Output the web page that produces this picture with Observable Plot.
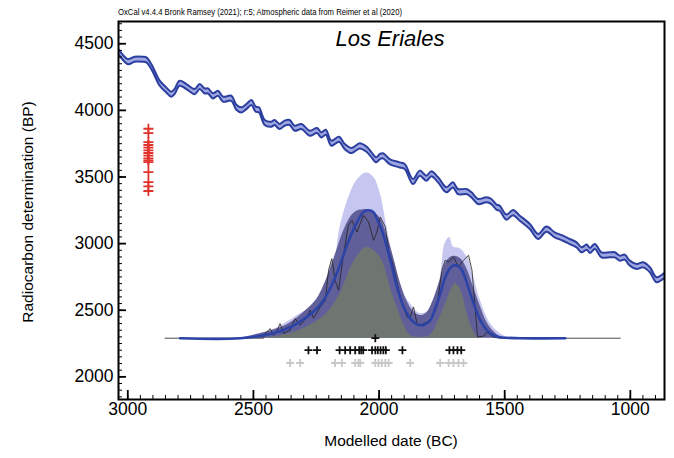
<!DOCTYPE html>
<html>
<head>
<meta charset="utf-8">
<script src="https://cdn.jsdelivr.net/npm/d3@7"></script>
<script src="https://cdn.jsdelivr.net/npm/@observablehq/plot@0.6"></script>
<style>
  html, body { margin: 0; padding: 0; background: #fff; }
  svg { display: block; }
</style>
</head>
<body>
<div id="chart"></div>
<script>
// ---------- tick labels ----------
const xTicks = [3000, 2500, 2000, 1500, 1000];
const yTicks = [2000, 2500, 3000, 3500, 4000, 4500];
const xMinor = d3.range(900, 3050, 50);
const yMinor = d3.range(1850, 4700, 50);

// ---------- calibration curve (IntCal20, BC year vs BP) ----------
const curveYears = [3040,3033,2998,2971,2938,2924,2904,2871,2845,2825,2812,2792,2765,2732,2712,2692,2679,2659,2639,2619,2586,2566,2546,2526,2506,2489,2476,2453,2427,2414,2394,2374,2354,2334,2307,2274,2245,2228,2210,2188,2157,2135,2108,2075,2048,2028,2009,1995,1982,1956,1916,1896,1863,1836,1810,1790,1763,1730,1704,1684,1650,1630,1604,1571,1551,1531,1518,1491,1465,1438,1398,1365,1332,1299,1266,1239,1212,1192,1172,1159,1139,1113,1080,1060,1040,1020,1003,973,947,920,894,867,860];
const curveBP = [4445,4430,4362,4380,4380,4375,4324,4200,4150,4117,4137,4200,4175,4137,4175,4142,4142,4105,4125,4080,4087,4020,4000,4025,4055,4005,4000,3905,3892,3905,3875,3900,3905,3862,3875,3825,3845,3812,3832,3750,3780,3725,3695,3730,3705,3662,3625,3650,3655,3612,3587,3575,3462,3525,3487,3520,3475,3400,3437,3387,3387,3362,3312,3325,3312,3270,3262,3195,3229,3187,3125,3050,3105,3062,3037,3012,2987,2950,2970,2945,2975,2912,2912,2912,2887,2895,2855,2825,2837,2800,2725,2750,2760];
const curveSigma = 19;

// ---------- radiocarbon determinations (red, plotted on the y axis) ----------
const rDateYear = 2918;
const rDatesBP = [3862,3829,3762,3740,3720,3700,3680,3660,3640,3625,3612,3537,3462,3430,3395];

// ---------- distributions (heights expressed on the BP axis above the baseline) ----------
const baseBP = 2290;
// summed (unmodelled) probability, thin black outline
const sumYears = [2852,2460,2453,2433,2420,2407,2394,2380,2354,2334,2314,2287,2274,2261,2234,2214,2201,2188,2175,2161,2142,2122,2108,2088,2062,2042,2022,2009,1995,1975,1962,1942,1916,1889,1876,1863,1849,1836,1796,1770,1750,1737,1723,1704,1684,1664,1644,1630,1617,1608,1584,1571,1544,1518,1040];
const sumBP = [2290,2290,2327,2362,2312,2342,2400,2327,2350,2437,2387,2450,2500,2440,2525,2575,2800,2887,2725,2650,2912,3137,3175,3087,3212,3162,3025,3085,3200,3125,2950,2825,2600,2450,2447,2525,2400,2387,2425,2525,2800,2875,2862,2900,2825,2875,2912,2800,2500,2300,2305,2337,2297,2290,2290];
// KDE 95% envelope (light)
const env95Years = [2553,2501,2433,2394,2354,2302,2247,2194,2155,2115,2088,2051,2022,1995,1969,1942,1916,1876,1836,1783,1756,1737,1719,1704,1677,1650,1624,1597,1557,1518,1478];
const env95BP = [2290,2300,2342,2380,2425,2487,2525,2675,3125,3375,3475,3530,3500,3375,3125,2875,2675,2550,2475,2525,2750,3000,3045,2975,2962,2900,2750,2575,2400,2325,2290];
// KDE 68% envelope (dark)
const env68Years = [2553,2421,2354,2287,2247,2221,2194,2168,2143,2115,2088,2062,2043,2022,1995,1969,1942,1916,1889,1863,1836,1810,1783,1756,1730,1704,1677,1650,1624,1597,1571,1544,1518,1491];
const env68BP = [2290,2352,2405,2505,2585,2680,2810,2950,3085,3195,3245,3255,3255,3240,3190,3070,2895,2710,2570,2490,2460,2480,2580,2730,2870,2905,2890,2810,2670,2530,2410,2340,2300,2290];
// KDE distribution (grey)
const kdeYears = [2501,2421,2354,2287,2247,2208,2183,2155,2128,2108,2088,2068,2048,2022,2002,1982,1956,1929,1903,1876,1836,1796,1763,1730,1710,1697,1684,1670,1653,1637,1610,1597];
const kdeBP = [2290,2300,2325,2375,2417,2475,2537,2625,2750,2837,2900,2950,2970,2950,2912,2850,2675,2525,2400,2312,2297,2312,2425,2575,2665,2700,2680,2625,2500,2400,2300,2290];
// KDE mean (blue line)
const meanYears = [2792,2553,2421,2354,2287,2247,2221,2194,2168,2142,2115,2088,2062,2042,2022,2009,1989,1969,1949,1929,1903,1876,1856,1836,1816,1796,1776,1756,1741,1723,1710,1697,1684,1670,1653,1637,1617,1597,1571,1544,1518,1438,1259];
const meanBP = [2290,2290,2327,2372,2450,2515,2575,2665,2777,2912,3050,3160,3237,3250,3235,3187,3100,2975,2830,2675,2530,2437,2402,2387,2395,2425,2515,2625,2725,2800,2830,2837,2830,2800,2717,2625,2515,2425,2350,2312,2297,2290,2290];

// ---------- crosses under the distribution ----------
const topCrossYear = 2015;
const medianRowBP = 2200;
const medianYears = [2281,2247,2157,2135,2115,2095,2079,2071,2063,2028,2015,2005,1994,1983,1973,1907,1720,1704,1688,1673];
const priorRowBP = 2104;
const priorYears = [2354,2314,2175,2148,2095,2082,2075,2015,2002,1989,1975,1962,1876,1757,1723,1704,1684,1664];

// ---------- build rows ----------
const rows = (xs, ys) => xs.map((x, i) => ({x, y: ys[i]}));
const curveRows = rows(curveYears, curveBP);
const sumRows = rows(sumYears, sumBP);
const env95Rows = rows(env95Years, env95BP);
const env68Rows = rows(env68Years, env68BP);
const kdeRows = rows(kdeYears, kdeBP);
const meanRows = rows(meanYears, meanBP);

const cross = {
  draw(ctx, size) {
    const r = Math.sqrt(size / Math.PI);
    ctx.moveTo(-r, 0); ctx.lineTo(r, 0);
    ctx.moveTo(0, -r); ctx.lineTo(0, r);
  }
};

const FONT = "'Liberation Sans', Arial, Helvetica, sans-serif";
const fmt = d => String(d);

const chart = Plot.plot({
  width: 674,
  height: 458,
  marginLeft: 118,
  marginRight: 10,
  marginTop: 21,
  marginBottom: 59,
  style: {fontFamily: FONT, background: "white", color: "black"},
  x: {domain: [3037, 864], label: null},
  y: {domain: [1830, 4667], label: null},
  marks: [
    Plot.areaY(sumRows, {x: "x", y1: baseBP, y2: "y", fill: "#e4e4e4"}),
    Plot.areaY(env95Rows, {x: "x", y1: baseBP, y2: "y", fill: "#c6c6f0", curve: "catmull-rom"}),
    Plot.areaY(env68Rows, {x: "x", y1: baseBP, y2: "y", fill: "#615f9a", curve: "catmull-rom"}),
    Plot.areaY(kdeRows, {x: "x", y1: baseBP, y2: "y", fill: "#6f7672", curve: "catmull-rom"}),
    Plot.areaY(curveRows, {x: "x", y1: d => d.y - curveSigma, y2: d => d.y + curveSigma,
      fill: "#9ea7e2", stroke: "#2c3f9e", strokeWidth: 2, curve: "catmull-rom", clip: true}),
    Plot.line(sumRows, {x: "x", y: "y", stroke: "#222", strokeWidth: 0.8}),
    Plot.line(meanRows, {x: "x", y: "y", stroke: "#2c44a8", strokeWidth: 2.6, curve: "catmull-rom"}),
    Plot.dot(rDatesBP, {x: rDateYear, y: d => d, symbol: cross, r: 5, fill: "none", stroke: "#e2322c", strokeWidth: 1.8}),
    Plot.dot(priorYears, {x: d => d, y: priorRowBP, symbol: cross, r: 4, fill: "none", stroke: "#c8c8c8", strokeWidth: 1.8}),
    Plot.dot(medianYears, {x: d => d, y: medianRowBP, symbol: cross, r: 4, fill: "none", stroke: "#111", strokeWidth: 1.8}),
    Plot.dot([topCrossYear], {x: d => d, y: baseBP, symbol: cross, r: 4, fill: "none", stroke: "#111", strokeWidth: 1.8}),
    Plot.axisY(yTicks, {anchor: "left", tickSize: 0, tickPadding: 5, fontSize: 17.5, tickFormat: fmt, label: null}),
    Plot.axisY(yTicks, {anchor: "left", tickSize: -8, strokeWidth: 1.8, tickFormat: () => "", label: null}),
    Plot.axisY(yMinor, {anchor: "left", tickSize: -4, strokeWidth: 1, tickFormat: () => "", label: null}),
    Plot.axisX(xTicks, {anchor: "bottom", tickSize: 0, tickPadding: 3, fontSize: 17.5, tickFormat: fmt, label: null}),
    Plot.axisX(xTicks, {anchor: "bottom", tickSize: -9, strokeWidth: 1.8, tickFormat: () => "", label: null}),
    Plot.axisX(xMinor, {anchor: "bottom", tickSize: -4, strokeWidth: 1, tickFormat: () => "", label: null}),
    Plot.frame({stroke: "black", strokeWidth: 2})
  ]
});

const svg = d3.select(chart);
svg.append("text")
  .attr("x", 118).attr("y", 15)
  .attr("text-anchor", "start")
  .attr("font-family", FONT).attr("font-size", 9.5)
  .attr("textLength", 284).attr("lengthAdjust", "spacingAndGlyphs")
  .attr("fill", "black")
  .text("OxCal v4.4.4 Bronk Ramsey (2021); r:5; Atmospheric data from Reimer et al (2020)");
svg.append("text")
  .attr("x", 390).attr("y", 46)
  .attr("text-anchor", "middle")
  .attr("font-family", FONT).attr("font-size", 22).attr("font-style", "italic")
  .attr("fill", "black")
  .text("Los Eriales");
svg.append("text")
  .attr("transform", "translate(27,212) rotate(-90)")
  .attr("text-anchor", "middle").attr("dominant-baseline", "central")
  .attr("font-family", FONT).attr("font-size", 15.5)
  .attr("fill", "black")
  .text("Radiocarbon determination (BP)");
svg.append("text")
  .attr("x", 391).attr("y", 446)
  .attr("text-anchor", "middle")
  .attr("font-family", FONT).attr("font-size", 15.5)
  .attr("fill", "black")
  .text("Modelled date (BC)");

document.getElementById("chart").appendChild(chart);
</script>
</body>
</html>
